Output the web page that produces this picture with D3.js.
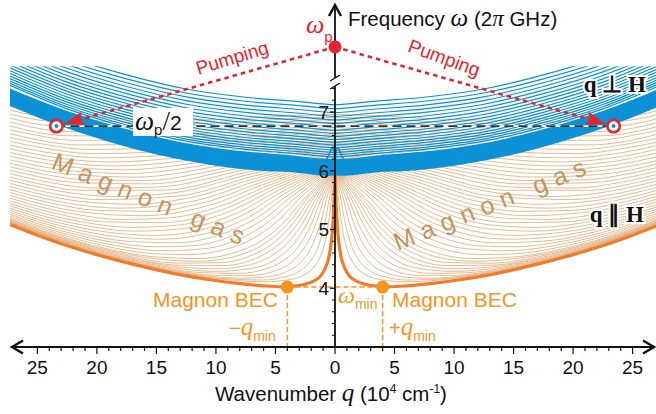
<!DOCTYPE html>
<html><head><meta charset="utf-8">
<script src="https://cdn.jsdelivr.net/npm/d3@7"></script>
<style>
html,body{margin:0;padding:0;background:#fff;}
svg{display:block;}
text{font-family:"Liberation Sans",Arial,Helvetica,sans-serif;}
.m{font-family:"Liberation Serif","Times New Roman",serif;font-style:italic;}
.b{font-family:"Liberation Serif","Times New Roman",serif;font-weight:bold;}
</style></head><body>
<svg id="c" width="656" height="414"></svg>
<script>
// ---------------- data (read / estimated from the picture), q >= 0 half, mirrored ----------------
const qMajorTicks = [-25,-20,-15,-10,-5,0,5,10,15,20,25];
const yMajorTicks = [4,5,6,7];
const yMinorTicks = [3.2,3.4,3.6,3.8,4.2,4.4,4.6,4.8,5.2,5.4,5.6,5.8,6.2,6.4,6.6,6.8,7.2,7.4];

// lowest q||H branch (thick orange), [q, omega]
const thickBV = [[0,5.913],[0.05,5.62],[0.12,5.30],[0.22,4.98],[0.35,4.73],[0.55,4.5],[0.8,4.35],[1.2,4.21],[1.8,4.12],[2.6,4.065],[3.5,4.035],[4.5,4.025],[6,4.04],[8,4.08],[10.5,4.145],[13.5,4.25],[17,4.41],[21,4.63],[24.5,4.865],[27.3,5.085]];

// thin q||H curves (magnon gas), each [q, omega]
const thinBV = [
 [[0,5.913],[0.2,5.67],[0.4,5.33],[0.7,4.92],[1.1,4.61],[1.7,4.38],[2.5,4.24],[4,4.14],[6,4.11],[10,4.165],[15,4.33],[20,4.58],[27.3,5.091]],
 [[0,5.914],[0.4,5.61],[0.8,5.17],[1.3,4.77],[2,4.48],[3,4.29],[4.5,4.18],[6,4.14],[10,4.175],[15,4.335],[20,4.585],[27.3,5.093]],
 [[0,5.915],[0.6,5.6],[1.2,5.12],[2,4.69],[3,4.42],[4.5,4.25],[6,4.187],[8,4.171],[11,4.215],[15,4.345],[20,4.591],[27.3,5.097]],
 [[0,5.916],[0.8,5.593],[1.6,5.096],[2.5,4.71],[3.5,4.472],[5,4.3],[7,4.219],[10,4.22],[14,4.321],[19,4.543],[27.3,5.102]],
 [[0,5.919],[1,5.592],[2,5.085],[3,4.73],[4.5,4.447],[6,4.319],[8,4.254],[11,4.263],[15,4.373],[20,4.609],[27.3,5.109]],
 [[0,5.921],[1.18,5.601],[2.36,5.096],[3.53,4.741],[4.71,4.529],[7.07,4.337],[10,4.288],[15,4.393],[20,4.621],[27.3,5.116]],
 [[0,5.925],[1.4,5.59],[2.75,5.096],[4,4.766],[5.5,4.533],[7.5,4.385],[10,4.331],[14,4.384],[19,4.583],[27.3,5.125]],
 [[0,5.929],[1.57,5.606],[3.14,5.097],[4.71,4.745],[6.28,4.543],[9.42,4.386],[13,4.392],[18,4.554],[23,4.828],[27.3,5.137]],
 [[0,5.933],[2,5.539],[3.5,5.11],[5,4.798],[7,4.562],[9.5,4.438],[13,4.427],[18,4.576],[23,4.844],[27.3,5.149]],
 [[0,5.938],[1.96,5.615],[3.93,5.106],[5.89,4.761],[7.85,4.574],[9.82,4.486],[11.78,4.459],[16,4.527],[21,4.743],[27.3,5.162]],
 [[0,5.943],[2.4,5.562],[4.3,5.116],[6,4.832],[8.5,4.602],[11.5,4.506],[15,4.533],[20,4.713],[27.3,5.177]],
 [[0,5.952],[2.45,5.63],[4.91,5.127],[7.36,4.796],[9.82,4.631],[12.27,4.572],[14.73,4.582],[20,4.75],[27.3,5.201]],
 [[0,5.962],[3,5.595],[5.5,5.143],[8,4.843],[11,4.673],[14.5,4.639],[19,4.749],[23.5,4.973],[27.3,5.229]],
 [[0,5.973],[3.04,5.655],[6.09,5.162],[9.13,4.853],[12.17,4.721],[15.22,4.706],[18.26,4.77],[22.5,4.952],[27.3,5.258]],
 [[0,5.985],[3.5,5.645],[6.7,5.18],[10,4.888],[13.5,4.774],[17.5,4.802],[22,4.968],[27.3,5.291]],
 [[0,5.998],[3.63,5.685],[7.27,5.207],[10.9,4.927],[14.53,4.835],[18.16,4.873],[22.5,5.036],[27.3,5.326]],
 [[0,6.013],[4,5.694],[7.85,5.234],[11.5,4.98],[15,4.9],[19.5,4.965],[23.5,5.131],[27.3,5.363]],
 [[0,6.028],[4.22,5.721],[8.44,5.262],[12.66,5.017],[16.89,4.972],[21.1,5.072],[24.5,5.23],[27.3,5.403]],
 [[0,6.045],[4.5,5.743],[9,5.296],[13,5.079],[17,5.036],[21,5.121],[24.5,5.276],[27.3,5.443]],
 [[0,6.063],[4.81,5.763],[9.62,5.326],[14.43,5.117],[19.24,5.129],[23.5,5.275],[27.3,5.488]],
 [[0,6.081],[5,5.794],[10,5.373],[14,5.197],[18,5.171],[22,5.266],[25,5.399],[27.3,5.533]],
 [[0,6.101],[5.4,5.81],[10.8,5.398],[16.2,5.234],[21.6,5.308],[25,5.45],[27.3,5.58]],
 [[0,6.123],[5.5,5.849],[11,5.458],[15.5,5.309],[20,5.327],[24,5.457],[27.3,5.629]],
 [[0,6.145],[5.99,5.863],[11.98,5.48],[17.97,5.364],[23.96,5.509],[27.3,5.679]],
 [[0,6.168],[6,5.908],[12.5,5.527],[17,5.43],[21.5,5.482],[27.3,5.731]],
 [[0,6.193],[6.58,5.921],[13.16,5.57],[19.73,5.509],[24,5.625],[27.3,5.784]],
 [[0,6.218],[6.5,5.972],[13.7,5.62],[18.5,5.562],[23,5.648],[27.3,5.838]],
 [[0,6.245],[7.17,5.985],[14.33,5.669],[21.5,5.667],[24.5,5.762],[27.3,5.894]],
 [[0,6.272],[7,6.041],[14.9,5.722],[20,5.704],[24,5.802],[27.3,5.951]],
 [[0,6.301],[7.76,6.054],[15.51,5.776],[21.7,5.798],[25,5.902],[27.3,6.009]],
 [[0,6.331],[8,6.091],[16,5.834],[21,5.847],[24.5,5.943],[27.3,6.067]],
 [[0,6.362],[8.35,6.128],[16.69,5.892],[22.5,5.943],[27.3,6.127]],
 [[0,6.394],[8.5,6.171],[17.3,5.953],[22,5.995],[25,6.085],[27.3,6.187]],
 [[0,6.428],[8.93,6.208],[17.87,6.016],[23.5,6.098],[27.3,6.248]],
 [[0,6.462],[9,6.256],[18.5,6.081],[23,6.148],[27.3,6.31]],
 [[0,6.498],[9.52,6.294],[19.04,6.149],[24,6.242],[27.3,6.373]],
 [[0,6.534],[10,6.332],[19.6,6.219],[24,6.306],[27.3,6.436]],
 [[0,6.572],[10.11,6.385],[20.22,6.29],[24.5,6.388],[27.3,6.499]],
 [[0,6.611],[10.5,6.428],[20.8,6.363],[24.5,6.453],[27.3,6.565]],
 [[0,6.65],[10.7,6.48],[21.4,6.44],[27.3,6.63]],
 [[0,6.69],[11,6.529],[22,6.518],[25,6.602],[27.3,6.695]],
 [[0,6.733],[11.29,6.582],[22.58,6.597],[27.3,6.762]],
 [[0,6.776],[11.5,6.634],[23,6.675],[27.3,6.829]],
 [[0,6.82],[11.88,6.689],[23.76,6.763],[27.3,6.896]],
 [[0,6.865],[12,6.744],[24.3,6.849],[27.3,6.964]],
 [[0,6.911],[12.47,6.801],[24.94,6.938],[27.3,7.033]],
 [[0,6.958],[12.5,6.859],[25.5,7.028],[27.3,7.102]]
];

// lowest q-perp-H branch with its small peak near q = 0
const blueDE0 = [[0,5.913],[0.05,6.2],[0.12,6.36],[0.22,6.398],[0.35,6.35],[0.55,6.256],[0.8,6.175],[1.2,6.101],[1.8,6.047],[2.6,6.015],[3.5,6.001],[5,6.002],[7,6.027],[10,6.099],[13.5,6.225],[17,6.393],[21,6.634],[24.5,6.885],[27.3,7.115]];
// dense (solid) blue band: [q, lower omega, upper omega]
const blueBand = [[0,5.913,6.2],[1.5,5.925,6.212],[3,5.96,6.247],[5,5.998,6.285],[7.5,6.04,6.327],[10,6.1,6.387],[12.5,6.18,6.467],[15,6.29,6.577],[17.5,6.42,6.707],[20,6.57,6.857],[22.5,6.73,7.017],[25,6.92,7.207],[27.3,7.115,7.402]];
// separate blue curves above the band, values at blueQ
const blueQ = [0,3,7.5,12.5,17.5,22.5,27.3];
const blueModes = [
 [6.236,6.288,6.363,6.503,6.743,7.053,7.453],
 [6.272,6.324,6.399,6.539,6.779,7.089,7.489],
 [6.311,6.363,6.438,6.578,6.818,7.128,7.528],
 [6.352,6.404,6.479,6.619,6.859,7.169,7.569],
 [6.394,6.446,6.521,6.661,6.901,7.211,7.611],
 [6.439,6.491,6.566,6.706,6.946,7.256,7.656],
 [6.486,6.538,6.613,6.753,6.993,7.303,7.703],
 [6.534,6.586,6.661,6.801,7.041,7.351,7.751],
 [6.584,6.636,6.711,6.851,7.091,7.401,7.801],
 [6.637,6.689,6.764,6.904,7.144,7.454,7.854],
 [6.691,6.743,6.818,6.958,7.198,7.508,7.908],
 [6.747,6.799,6.874,7.014,7.254,7.564,7.964],
 [6.805,6.857,6.932,7.072,7.312,7.622,8.022],
 [6.865,6.917,6.992,7.132,7.372,7.682,8.082],
 [6.927,6.979,7.054,7.194,7.434,7.744,8.144],
 [6.991,7.043,7.118,7.258,7.498,7.808,8.208],
 [7.056,7.108,7.183,7.323,7.563,7.873,8.273],
 [7.124,7.176,7.251,7.391,7.631,7.941,8.341]
];

const omegaPump = 13.52;   // omega_p (above the axis break)
const omegaHalf = 6.76;    // omega_p / 2
const qPump = 23.4;        // where omega_p/2 meets the lowest q-perp-H branch
const qMin = 4.0;          // BEC wavenumber
const omegaMin = 4.02;     // BEC frequency
const omegaTop = 7.78;     // top of drawn curves

// ---------------- scales ----------------
const svg = d3.select('#c');
const x = d3.scaleLinear().domain([-27.3, 27.3]).range([10, 660]);
const y = d3.scaleLinear().domain([3, 7.8]).range([347, 65]);
const yUp = d3.scaleLinear().domain([13, 14]).range([74, 22]);

const BLUE = '#0b91d6', ORANGE_THIN = '#dcab78', ORANGE = '#f47c28', ORANGE_L = '#f7941e', RED = '#e8232c', TAN = '#c4955f';

function sym(pts){
  const l = pts.filter(p => p[0] > 0).map(p => [-p[0], ...p.slice(1)]).reverse();
  return l.concat(pts);
}
const line = d3.line().x(d => x(d[0])).y(d => y(d[1])).curve(d3.curveMonotoneX);

const defs = svg.append('defs');
defs.append('clipPath').attr('id','pc').append('rect')
  .attr('x',10).attr('y',y(omegaTop)).attr('width',646).attr('height',y(3)-y(omegaTop));
defs.append('marker').attr('id','ah').attr('viewBox','0 0 20 14').attr('refX',20).attr('refY',7)
  .attr('markerWidth',20).attr('markerHeight',14).attr('markerUnits','userSpaceOnUse').attr('orient','auto')
  .append('path').attr('d','M0,0 L20,7 L0,14 L4,7 z').attr('fill',RED);

const g = svg.append('g').attr('clip-path','url(#pc)');

// thin orange curves
g.selectAll('path.ob').data(thinBV).join('path').attr('class','ob')
  .attr('d', d => line(sym(d))).attr('fill','none').attr('stroke',ORANGE_THIN).attr('stroke-width',0.8);

// blue band
const area = d3.area().x(d => x(d[0])).y0(d => y(d[1])).y1(d => y(d[2])).curve(d3.curveMonotoneX);
g.append('path').attr('d', area(sym(blueBand))).attr('fill',BLUE);
// blue curves
g.selectAll('path.bl').data(blueModes).join('path').attr('class','bl')
  .attr('d', row => line(sym(blueQ.map((q,i) => [q,row[i]])))).attr('fill','none')
  .attr('stroke',BLUE).attr('stroke-width',1.2);
g.append('path').attr('d', line(sym(blueDE0))).attr('fill','none').attr('stroke',BLUE).attr('stroke-width',1.6);

// thick orange
g.append('path').attr('d', line(sym(thickBV))).attr('fill','none').attr('stroke',ORANGE).attr('stroke-width',3.2);

// omega_p/2 dashed line
svg.append('line').attr('x1',x(-qPump)).attr('x2',x(qPump)).attr('y1',y(omegaHalf)).attr('y2',y(omegaHalf))
  .attr('stroke','#fff').attr('stroke-width',1.8);
svg.append('line').attr('x1',x(-qPump)).attr('x2',x(qPump)).attr('y1',y(omegaHalf)).attr('y2',y(omegaHalf))
  .attr('stroke','#333').attr('stroke-width',1.7).attr('stroke-dasharray','9,5');

// BEC guides
[-qMin, qMin].forEach(q => {
  svg.append('line').attr('x1',x(q)).attr('x2',x(q)).attr('y1',y(omegaMin)).attr('y2',y(3))
    .attr('stroke',ORANGE_L).attr('stroke-width',1.5).attr('stroke-dasharray','5,3');
});
svg.append('line').attr('x1',x(-qMin)).attr('x2',x(qMin)).attr('y1',y(omegaMin)).attr('y2',y(omegaMin))
  .attr('stroke',ORANGE_L).attr('stroke-width',1.5).attr('stroke-dasharray','5,3');

// ---------------- axes ----------------
const ax = svg.append('g').attr('stroke','#111').attr('fill','none');
const y0 = y(3);
ax.append('line').attr('x1',12).attr('x2',654).attr('y1',y0).attr('y2',y0).attr('stroke-width',1.8);
ax.append('polyline').attr('points',`23,${y0-6.5} 12,${y0} 23,${y0+6.5}`).attr('stroke-width',2.4);
ax.append('polyline').attr('points',`643,${y0-6.5} 654,${y0} 643,${y0+6.5}`).attr('stroke-width',2.4);
d3.range(-25,26).forEach(v => {
  const major = qMajorTicks.includes(v);
  ax.append('line').attr('x1',x(v)).attr('x2',x(v)).attr('y1',y0).attr('y2',y0 + (major ? 7 : 4)).attr('stroke-width',1.2);
});
svg.append('g').selectAll('text').data(qMajorTicks).join('text')
  .attr('x', d => x(d)).attr('y', 373.5).attr('text-anchor','middle').attr('font-size',19).attr('fill','#111')
  .text(d => Math.abs(d));

const xa = x(0);
ax.append('line').attr('x1',xa).attr('x2',xa).attr('y1',y0).attr('y2',86).attr('stroke-width',1.8);
ax.append('line').attr('x1',xa).attr('x2',xa).attr('y1',78).attr('y2',6).attr('stroke-width',1.8);
ax.append('line').attr('x1',xa-5).attr('x2',xa+5).attr('y1',89).attr('y2',83).attr('stroke-width',1.4);
ax.append('line').attr('x1',xa-5).attr('x2',xa+5).attr('y1',81).attr('y2',75).attr('stroke-width',1.4);
ax.append('polyline').attr('points',`${xa-6},16 ${xa},5 ${xa+6},16`).attr('stroke-width',2.4);
yMajorTicks.forEach(v => ax.append('line').attr('x1',xa-5).attr('x2',xa).attr('y1',y(v)).attr('y2',y(v)).attr('stroke-width',1.3));
yMinorTicks.forEach(v => ax.append('line').attr('x1',xa-3).attr('x2',xa).attr('y1',y(v)).attr('y2',y(v)).attr('stroke-width',1));
svg.append('g').selectAll('text').data(yMajorTicks).join('text')
  .attr('x', xa-6).attr('y', d => y(d)).attr('dy','0.36em').attr('text-anchor','end').attr('font-size',19).attr('fill','#111')
  .text(d => d);

// ---------------- pumping ----------------
const P0 = [xa, yUp(omegaPump)];
[-1, 1].forEach(s => {
  const tx = x(s*qPump), ty = y(omegaHalf);
  const dx = tx - P0[0], dy = ty - P0[1], L = Math.hypot(dx, dy);
  const ex = tx - dx/L*8.5, ey = ty - dy/L*8.5;
  svg.append('line').attr('x1',P0[0]).attr('y1',P0[1]).attr('x2',ex).attr('y2',ey)
    .attr('stroke',RED).attr('stroke-width',2.6).attr('stroke-dasharray','4.5,4').attr('marker-end','url(#ah)');
});
[-1, 1].forEach(s => {
  svg.append('circle').attr('cx',x(s*qPump)).attr('cy',y(omegaHalf)).attr('r',6.2)
    .attr('fill','#fff').attr('stroke',RED).attr('stroke-width',2.6);
  svg.append('circle').attr('cx',x(s*qPump)).attr('cy',y(omegaHalf)).attr('r',2).attr('fill',BLUE);
});
svg.append('circle').attr('cx',P0[0]).attr('cy',P0[1]).attr('r',6.5).attr('fill',RED);
[-1, 1].forEach(s => svg.append('circle').attr('cx',x(s*qMin)).attr('cy',y(omegaMin)).attr('r',6.5).attr('fill',ORANGE_L));

// ---------------- texts ----------------
function T(x0, y0, opts){ const t = svg.append('text').attr('x',x0).attr('y',y0); if(opts) Object.entries(opts).forEach(([k,v]) => t.attr(k,v)); return t; }
function sp(t, s, opts){ const e = t.append('tspan').text(s); if(opts) Object.entries(opts).forEach(([k,v]) => e.attr(k,v)); return e; }

let t = T(348, 26, {'font-size':20.5, fill:'#111'});
sp(t,'Frequency '); sp(t,'ω',{class:'m','font-size':25}); sp(t,' (2'); sp(t,'π',{class:'m','font-size':23}); sp(t,' GHz)');

t = T(215, 401, {'font-size':20.5, fill:'#111'});
sp(t,'Wavenumber '); sp(t,'q',{class:'m','font-size':25}); sp(t,' (10'); sp(t,'4',{'font-size':12,dy:-8}); sp(t,' cm',{dy:8});
sp(t,'-1',{'font-size':12,dy:-8}); sp(t,')',{dy:8});

t = T(306, 33, {fill:RED}); sp(t,'ω',{class:'m','font-size':26}); sp(t,'p',{'font-size':15,dy:9});

// omega_p/2 label with white backing
svg.append('rect').attr('x',133).attr('y',108).attr('width',60).attr('height',28).attr('fill','#fff');
t = T(135, 130, {fill:'#111'}); sp(t,'ω',{class:'m','font-size':27}); sp(t,'p',{'font-size':15,dy:5});
sp(t,'/',{'font-size':27,dy:-5,'font-family':'"Liberation Serif",serif'}); sp(t,'2',{'font-size':21});

T(234, 64, {'font-size':19, fill:RED, 'text-anchor':'middle', transform:'rotate(-17,234,64)'}).text('Pumping');
T(442, 64, {'font-size':19, fill:RED, 'text-anchor':'middle', transform:'rotate(20,442,64)'}).text('Pumping');

T(152, 200, {'font-size':25, fill:TAN, 'text-anchor':'middle', dy:'0.35em', 'letter-spacing':7.5, transform:'rotate(22,152,200)'}).text('Magnon gas');
T(493, 203, {'font-size':25, fill:TAN, 'text-anchor':'middle', dy:'0.35em', 'letter-spacing':7.5, transform:'rotate(-22,493,203)'}).text('Magnon gas');

T(646, 92, {class:'b','font-size':23, fill:'#111','text-anchor':'end', stroke:'#fff','stroke-width':4,'paint-order':'stroke'}).text('q ⊥ H');
T(644, 222, {class:'b','font-size':23, fill:'#111','text-anchor':'end', stroke:'#fff','stroke-width':4,'paint-order':'stroke'}).text('q ∥ H');

T(153, 307, {'font-size':21, fill:ORANGE_L}).text('Magnon BEC');
T(392, 307, {'font-size':21, fill:ORANGE_L}).text('Magnon BEC');

t = T(338, 303, {fill:ORANGE_L}); sp(t,'ω',{class:'m','font-size':24}); sp(t,'min',{'font-size':14,dy:6});
t = T(229, 335, {fill:ORANGE_L}); sp(t,'−',{'font-size':20}); sp(t,'q',{class:'m','font-size':25}); sp(t,'min',{'font-size':14,dy:6});
t = T(389, 335, {fill:ORANGE_L}); sp(t,'+',{'font-size':20}); sp(t,'q',{class:'m','font-size':25}); sp(t,'min',{'font-size':14,dy:6});
</script></body></html>
